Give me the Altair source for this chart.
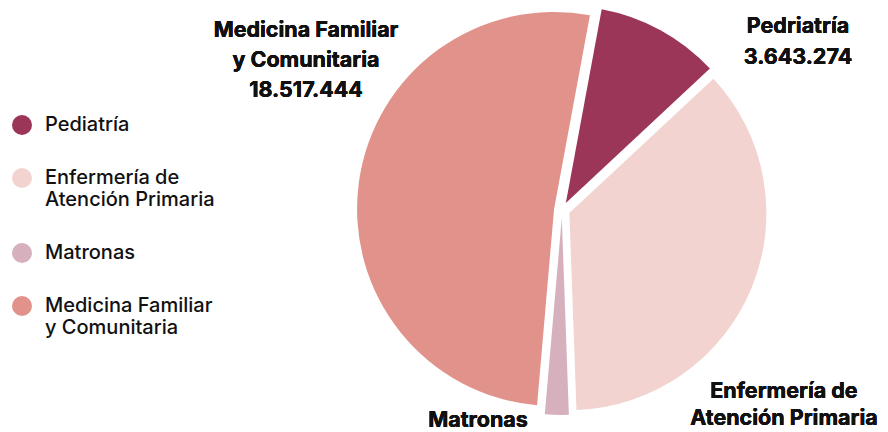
import altair as alt
import pandas as pd

# ---- data ----
categorias = ["Pediatría", "Enfermería de Atención Primaria", "Matronas", "Medicina Familiar y Comunitaria"]
valores = [3643274, 13070000, 700000, 18517444]
colores = ["#9c3659", "#f2d3d0", "#d6b0bd", "#e1928a"]

df = pd.DataFrame({"cat": categorias, "valor": valores, "orden": list(range(len(categorias)))})

CX, CY = 554, 202      # pie centre (layout)
R = 197                # radius
D = 8                  # explode distance
OFF = 0.183            # start angle (rad)

legend_expr = (
    "datum.label == 'Enfermería de Atención Primaria' ? ['Enfermería de', 'Atención Primaria'] : "
    "datum.label == 'Medicina Familiar y Comunitaria' ? ['Medicina Familiar', 'y Comunitaria'] : datum.label"
)

base = alt.Chart(df).transform_joinaggregate(
    total="sum(valor)"
).transform_window(
    cum="sum(valor)", sort=[alt.SortField("orden")], frame=[None, 0]
).transform_calculate(
    t1=f"{OFF} + 2*PI*datum.cum/datum.total",
    t0=f"{OFF} + 2*PI*(datum.cum - datum.valor)/datum.total",
).transform_calculate(
    mid="(datum.t0 + datum.t1)/2"
).transform_calculate(
    cx=f"{CX} + {D}*sin(datum.mid)",
    cy=f"{CY} - {D}*cos(datum.mid)",
)

pie = base.mark_arc(radius=R).encode(
    theta=alt.Theta("t0:Q", scale=None, stack=None),
    theta2="t1:Q",
    x=alt.X("cx:Q", scale=None),
    y=alt.Y("cy:Q", scale=None),
    color=alt.Color(
        "cat:N",
        scale=alt.Scale(domain=categorias, range=colores),
        legend=alt.Legend(
            title=None, orient="none", legendX=4, legendY=107,
            symbolType="circle", symbolSize=400, symbolStrokeWidth=0,
            labelExpr=legend_expr, labelFont="Inter", labelFontSize=20,
            labelFontWeight=500, labelColor="#111111", labelOffset=13,
            labelLimit=300, rowPadding=33,
        ),
    ),
    order=alt.Order("orden:Q"),
)

FONT = "Inter"
def lab(lines, x, y, lh=30):
    return alt.Chart(df).mark_text(
        text=lines, font=FONT, fontSize=21.5, fontWeight="bold", color="#111111",
        align="center", baseline="alphabetic", lineHeight=lh,
    ).encode(x=alt.value(x), y=alt.value(y))

labels = [
    lab(["Medicina Familiar", "y Comunitaria", "18.517.444"], 298, 29, 30),
    lab(["Pedriatría", "3.643.274"], 790, 25, 31),
    lab(["Enfermería de", "Atención Primaria"], 776, 390, 27),
    lab(["Matronas"], 470, 419),
]

chart = alt.layer(pie, *labels).properties(
    width=872, height=424, autosize=alt.AutoSizeParams(type="none"), padding=0,
).configure_view(stroke=None)

chart.save("out.html", embed_options={"renderer": "svg", "actions": False})
